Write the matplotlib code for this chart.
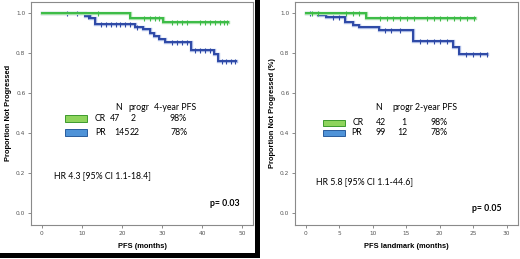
import matplotlib
matplotlib.use("Agg")
import matplotlib.pyplot as plt
from matplotlib.patches import Rectangle

# ---------------- data ----------------
# Left panel: PFS (months)
l_cr_t = [0, 22.0, 30.2]
l_cr_s = [1.0, 0.979, 0.955]
l_cr_end = 46.4
l_cr_cens_t = [14.0, 25.5, 27.0, 28.2, 29.3, 32.5, 33.7, 35.0, 36.2, 39.5, 40.8, 42.0, 43.2, 44.5, 45.5, 46.3]

l_pr_t = [0, 10.7, 12.0, 13.3, 23.2, 25.2, 27.0, 28.0, 29.2, 30.8, 37.3, 43.0, 44.0]
l_pr_s = [1.0, 0.988, 0.975, 0.947, 0.933, 0.92, 0.90, 0.885, 0.87, 0.857, 0.815, 0.795, 0.763]
l_pr_end = 48.4
l_pr_cens_t = [6.2, 8.7, 11.5, 14.8, 16.0, 17.2, 18.4, 19.6, 20.8, 22.0, 23.8,
               32.5, 33.7, 35.0, 36.2, 38.3, 39.5, 40.8, 42.0, 44.9, 46.1, 47.3, 48.3]

# Right panel: PFS landmark (months)
r_cr_t = [0, 8.95]
r_cr_s = [1.0, 0.976]
r_cr_end = 25.3
r_cr_cens_t = [0.9, 1.9, 6.0, 7.0, 8.0, 11.1, 12.1, 13.1, 14.1, 15.1, 16.1,
               18.1, 19.1, 20.1, 21.1, 22.1, 23.1, 24.1, 25.1]

r_pr_t = [0, 1.9, 3.0, 5.9, 7.0, 8.0, 10.9, 16.0, 22.0, 22.9]
r_pr_s = [1.0, 0.99, 0.98, 0.955, 0.944, 0.93, 0.914, 0.862, 0.832, 0.797]
r_pr_end = 27.1
r_pr_cens_t = [0.6, 4.1, 4.9, 11.8, 12.8, 14.1, 17.1, 18.1, 19.1, 20.1, 21.1,
               24.0, 25.0, 26.0, 27.0]

groups = ["CR", "PR"]
l_n = ["47", "145"]
l_progr = ["2", "22"]
l_pfs = ["98%", "78%"]
r_n = ["42", "99"]
r_progr = ["1", "12"]
r_pfs = ["98%", "78%"]

l_xticks = [0, 10, 20, 30, 40, 50]
r_xticks = [0, 5, 10, 15, 20, 25, 30]
yticks = [0.0, 0.2, 0.4, 0.6, 0.8, 1.0]

GREEN = "#3cbc46"
BLUE = "#2d48a6"
GREEN_HALO = "#a6e0a8"
BLUE_HALO = "#a9b8e4"
GREEN_FILL = "#8ed45c"
GREEN_EDGE = "#3d9a2e"
BLUE_FILL = "#4f93d8"
BLUE_EDGE = "#2a5c9c"
ANN_FONT = ["Lato", "DejaVu Sans"]
AX_FONT = ["Liberation Sans", "DejaVu Sans"]


def surv_at(times, surv, t):
    s = surv[0]
    for tt, ss in zip(times, surv):
        if t >= tt:
            s = ss
    return s


def draw_km(ax, times, surv, end, cens, color, halo, z):
    xs = list(times) + [end]
    ys = list(surv) + [surv[-1]]
    ax.step(xs, ys, where="post", color=halo, lw=2.4, zorder=z - 0.5, solid_joinstyle="miter")
    ax.step(xs, ys, where="post", color=color, lw=1.4, zorder=z, solid_joinstyle="miter")
    cy = [surv_at(times, surv, c) for c in cens]
    ax.plot(cens, cy, linestyle="none", marker="|", markersize=3.6, mew=0.8,
            color=color, zorder=z)


fig = plt.figure(figsize=(5.2, 2.59), dpi=100)
W, H = 520.0, 259.0


def make_ax(x0, x1, y_top, y_bot):
    return fig.add_axes([x0 / W, 1 - y_bot / H, (x1 - x0) / W, (y_bot - y_top) / H])


axL = make_ax(31, 253, 1.5, 225)
axR = make_ax(295, 518, 1.5, 225)

for ax in (axL, axR):
    for sp in ax.spines.values():
        sp.set_color("#8a8a8a")
        sp.set_linewidth(0.8)
    ax.tick_params(direction="out", length=2.5, width=0.6, color="#777777",
                   labelsize=4.2, labelcolor="#555555", pad=1.5)
    ax.set_yticks(yticks)
    ax.set_yticklabels([f"{v:.1f}" for v in yticks])
    ax.set_ylim(-0.0585, 1.059)

# left panel
draw_km(axL, l_pr_t, l_pr_s, l_pr_end, l_pr_cens_t, BLUE, BLUE_HALO, 3)
draw_km(axL, l_cr_t, l_cr_s, l_cr_end, l_cr_cens_t, GREEN, GREEN_HALO, 4)
axL.set_xlim(-2.75, 52.75)
axL.set_xticks(l_xticks)
axL.set_xlabel("PFS (months)", fontsize=5.4, fontweight="bold", family=AX_FONT, labelpad=5)
axL.set_ylabel("Proportion Not Progressed", fontsize=5.4, fontweight="bold", family=AX_FONT, labelpad=3)

# right panel
draw_km(axR, r_pr_t, r_pr_s, r_pr_end, r_pr_cens_t, BLUE, BLUE_HALO, 3)
draw_km(axR, r_cr_t, r_cr_s, r_cr_end, r_cr_cens_t, GREEN, GREEN_HALO, 4)
axR.set_xlim(-1.6, 31.7)
axR.set_xticks(r_xticks)
axR.set_xlabel("PFS landmark (months)", fontsize=5.4, fontweight="bold", family=AX_FONT, labelpad=5)
axR.set_ylabel("Proportion Not Progressed (%)", fontsize=5.4, fontweight="bold", family=AX_FONT, labelpad=3)

FS = 6.3


def txt(ax, x, y, s, ha="center"):
    ax.text(x, y, s, fontsize=FS, family=ANN_FONT, va="center", ha=ha)


def legend_block(ax, hdr_y, row_y, patch_x, patch_h, hdr_x, grp_x, n_x, p_x, f_x,
                 year_label, n, progr, pfs):
    txt(ax, hdr_x[0], hdr_y, "N")
    txt(ax, hdr_x[1], hdr_y, "progr")
    txt(ax, hdr_x[2], hdr_y, year_label)
    fills = [(GREEN_FILL, GREEN_EDGE), (BLUE_FILL, BLUE_EDGE)]
    for i in range(2):
        y = row_y[i]
        ax.add_patch(Rectangle((patch_x[0], y - patch_h / 2), patch_x[1] - patch_x[0], patch_h,
                               facecolor=fills[i][0], edgecolor=fills[i][1], lw=0.7, zorder=5))
        txt(ax, grp_x[i], y, groups[i], ha="left")
        txt(ax, n_x[i], y, n[i])
        txt(ax, p_x[i], y, progr[i])
        txt(ax, f_x[i], y, pfs[i])


legend_block(axL, 0.527, [0.473, 0.405], (5.75, 11.25), 0.034,
             (19.25, 24.25, 33.25), (13.25, 13.25), (18.25, 19.9), (22.75, 23.2), (34.0, 34.25),
             "4-year PFS", l_n, l_progr, l_pfs)
legend_block(axR, 0.5275, [0.4525, 0.4025], (2.58, 5.87), 0.03,
             (10.94, 14.52, 19.4), (7.06, 6.87), (11.24, 11.24), (14.67, 14.37), (19.88, 19.88),
             "2-year PFS", r_n, r_progr, r_pfs)

axL.text(3.0, 0.1865, "HR 4.3 [95% CI 1.1-18.4]", fontsize=FS, family=ANN_FONT, va="center", ha="left")
axL.text(42.0, 0.0465, "p= 0.03", fontsize=FS, family=ANN_FONT, fontweight="bold", va="center", ha="left")
axR.text(1.54, 0.1575, "HR 5.8 [95% CI 1.1-44.6]", fontsize=FS, family=ANN_FONT, va="center", ha="left")
axR.text(24.8, 0.0225, "p= 0.05", fontsize=FS, family=ANN_FONT, fontweight="bold", va="center", ha="left")

# black shadow frame of left panel
fig.patches.append(Rectangle((255 / W, 1 - 258 / H), 5 / W, 258 / H, transform=fig.transFigure,
                             facecolor="black", edgecolor="none", zorder=10))
fig.patches.append(Rectangle((0, 1 - 258 / H), 260 / W, 5 / H, transform=fig.transFigure,
                             facecolor="black", edgecolor="none", zorder=10))

fig.savefig("out.png", dpi=100)
